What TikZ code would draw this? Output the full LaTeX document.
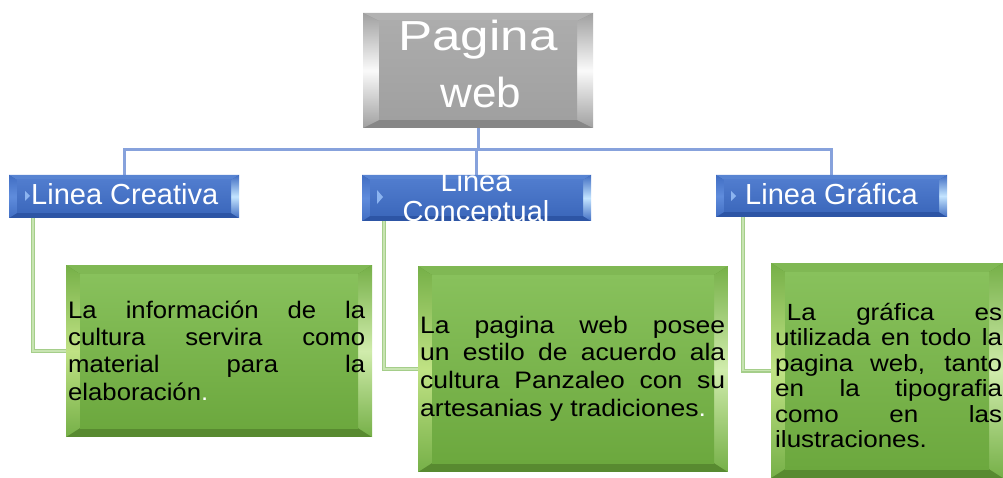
\documentclass[tikz,border=0pt]{standalone}
\usepackage{fontspec}
\setmainfont{Liberation Sans}
\usetikzlibrary{calc}
% green
\definecolor{gbot}{RGB}{88,138,48}
\definecolor{gtb}{RGB}{128,184,84}
\definecolor{gmid}{RGB}{118,176,72}
\definecolor{glhi}{RGB}{192,226,132}
\definecolor{grhi}{RGB}{208,236,172}
\definecolor{gft}{RGB}{136,193,92}
\definecolor{gfb}{RGB}{108,168,62}
% blue
\definecolor{bbot}{RGB}{45,85,165}
\definecolor{btb}{RGB}{88,132,210}
\definecolor{bmid}{RGB}{65,110,195}
\definecolor{blhi}{RGB}{95,140,220}
\definecolor{brhi}{RGB}{195,228,255}
\definecolor{bft}{RGB}{80,124,206}
\definecolor{bfb}{RGB}{60,104,188}
% gray
\definecolor{kbot}{RGB}{135,135,135}
\definecolor{ktb}{RGB}{178,178,178}
\definecolor{kmid}{RGB}{160,160,160}
\definecolor{klhi}{RGB}{250,250,250}
\definecolor{krhi}{RGB}{250,250,250}
\definecolor{kft}{RGB}{172,172,172}
\definecolor{kfb}{RGB}{160,160,160}
\definecolor{bline}{RGB}{135,162,220}
\definecolor{gline}{RGB}{165,206,138}
\definecolor{gline2}{RGB}{200,228,178}
\definecolor{tri}{RGB}{140,180,240}
% x1 y1 x2 y2 bx by prefix
\newcommand\bevelrect[7]{%
 \fill[#7bot] (#1,#2) rectangle (#3,#4);
 \fill[#7tb] (#1,#2) -- (#3,#2) -- ({#3-#5},{#2+#6}) -- ({#1+#5},{#2+#6}) -- cycle;
 \shade[top color=#7mid, bottom color=#7mid, middle color=#7lhi] (#1,#2) -- ({#1+#5},{#2+#6}) -- ({#1+#5},{#4-#6}) -- (#1,#4) -- cycle;
 \shade[top color=#7mid, bottom color=#7mid, middle color=#7rhi] (#3,#2) -- ({#3-#5},{#2+#6}) -- ({#3-#5},{#4-#6}) -- (#3,#4) -- cycle;
 \shade[top color=#7ft, bottom color=#7fb] ({#1+#5},{#2+#6}) rectangle ({#3-#5},{#4-#6});
}
\tolerance=10000
\hyphenpenalty=10000
\begin{document}
\begin{tikzpicture}[x=1pt,y=-1pt,
  boxnode/.style={inner sep=0pt, outer sep=0pt, draw=none},
  bconn/.style={draw=bline, line width=3pt},
  gconn/.style={draw=gline, line width=4pt},
  gconnin/.style={draw=gline2, line width=1.2pt},
  btext/.style={text=white, inner sep=0pt, font=\fontsize{29}{29}\selectfont},
  gtext/.style={text=black, inner sep=0pt, anchor=base west}]
\useasboundingbox (0,0) rectangle (1003,478);
\fill[white] (0,0) rectangle (1003,478);
% nodes (geometry)
\node[boxnode, minimum width=230pt, minimum height=115pt] (top) at (478,70.5) {};
\node[boxnode, minimum width=230pt, minimum height=43pt] (c1) at (124,196.5) {};
\node[boxnode, minimum width=229pt, minimum height=46pt] (c2) at (476.5,198) {};
\node[boxnode, minimum width=231pt, minimum height=42pt] (c3) at (831.5,196) {};
\node[boxnode, minimum width=306pt, minimum height=172pt] (g1) at (219,351) {};
\node[boxnode, minimum width=310pt, minimum height=206pt] (g2) at (573,369) {};
\node[boxnode, minimum width=232pt, minimum height=215pt] (g3) at (887,370.5) {};
\coordinate (bus) at (478,150);
% connectors
\draw[bconn] (top.south) -- (bus);
\draw[bconn] (bus) -| (c1.north);
\draw[bconn] (bus) -| (c2.north);
\draw[bconn] (bus) -| (c3.north);
\draw[gconn] ([xshift=24pt]c1.south west) |- (g1.west);
\draw[gconn] ([xshift=22pt]c2.south west) |- (g2.west);
\draw[gconn] ([xshift=27pt]c3.south west) |- (g3.west);
\draw[gconnin] ([xshift=24pt]c1.south west) |- (g1.west);
\draw[gconnin] ([xshift=22pt]c2.south west) |- (g2.west);
\draw[gconnin] ([xshift=27pt]c3.south west) |- (g3.west);
% boxes
\bevelrect{363}{13}{593}{128}{16}{8}{k}
\bevelrect{9}{175}{239}{218}{8}{5}{b}
\bevelrect{362}{175}{591}{221}{8}{5}{b}
\bevelrect{716}{175}{947}{217}{8}{5}{b}
\bevelrect{66}{265}{372}{437}{14}{9}{g}
\bevelrect{418}{266}{728}{472}{14}{9}{g}
\bevelrect{771}{263}{1003}{478}{14}{9}{g}
% small arrow glyphs
\fill[tri] (25,191) -- (30,196) -- (25,201) -- cycle;
\fill[tri] (377,190) -- (383,197) -- (377,204) -- cycle;
\fill[tri] (731,191) -- (736,196) -- (731,201) -- cycle;
% title text
\node[anchor=base, inner sep=0pt, text=white] (tt1) at (478,51) {\scalebox{1.28}[1.05]{\fontsize{40}{40}\selectfont Pagina}};
\node[anchor=base, inner sep=0pt, text=white] (tt2) at (481,108) {\scalebox{1.1}[1.05]{\fontsize{40}{40}\selectfont web}};
% blue texts
\node[btext, anchor=base west] (tc1) at (31,205) {Linea Creativa};
\node[btext, anchor=base west] (tc3) at (745,205) {Linea Gráfica};
\begin{scope}
\clip (362,175) rectangle (591,221);
\node[btext, anchor=base] (tc2a) at (476,192) {Linea};
\node[btext, anchor=base] (tc2b) at (476,222) {Conceptual};
\end{scope}
% green texts
\node[gtext] (tg1) at (68,318) {\scalebox{1}[0.93]{\parbox[t]{297pt}{\fontsize{25.7}{29.4}\selectfont
La información de la\linebreak cultura servira como\linebreak material para la\linebreak elaboración\textcolor{white}{.}}}};
\node[gtext] (tg2) at (420,333) {\scalebox{1}[0.9]{\parbox[t]{305pt}{\fontsize{26.5}{31.1}\selectfont
La pagina web posee\linebreak un estilo de acuerdo ala\linebreak cultura Panzaleo con su\linebreak artesanias y tradiciones\textcolor{white}{.}}}};
\node[gtext] (tg3) at (775,320) {\scalebox{1}[0.9]{\parbox[t]{227pt}{\fontsize{26}{28.4}\selectfont
\hspace*{0.45em}La gráfica es\linebreak utilizada en todo la\linebreak pagina web, tanto\linebreak en la tipografia\linebreak como en las\linebreak ilustraciones.}}};
\end{tikzpicture}
\end{document}
